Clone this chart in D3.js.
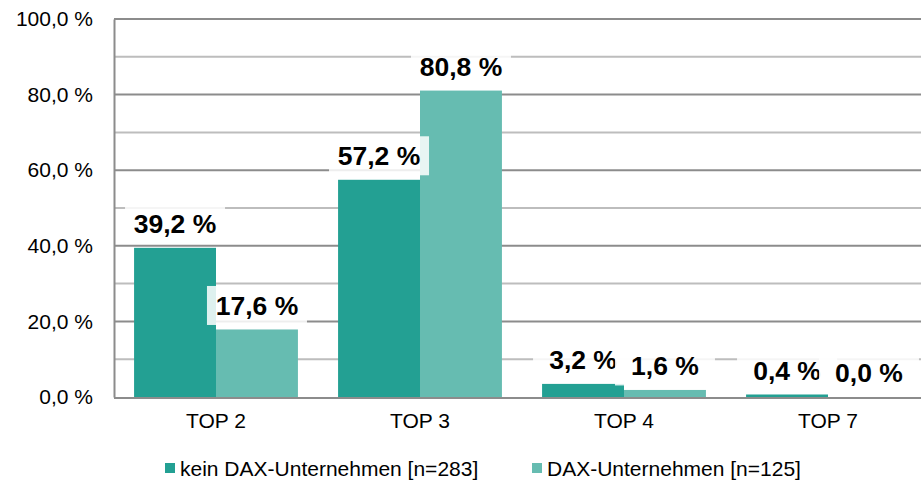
<!DOCTYPE html>
<meta charset="utf-8">
<head>
<script src="https://d3js.org/d3.v7.min.js"></script>
<style>
  body { margin: 0; background: #fff; }
  text { font-family: "Liberation Sans", Arial, sans-serif; fill: #000; }
  .tick text { font-size: 21px; }
  .lbl { font-size: 26.5px; font-weight: bold; }
  .legend text { font-size: 21px; }
</style>
</head>
<body>
<svg width="921" height="485"></svg>
<script>
var categories = ["TOP 2", "TOP 3", "TOP 4", "TOP 7"];
var seriesNames = ["kein DAX-Unternehmen [n=283]", "DAX-Unternehmen [n=125]"];
var keinDax = [39.2, 57.2, 3.2, 0.4];
var dax = [17.6, 80.8, 1.6, 0.0];
var colors = ["#23a093", "#66bcb1"];
var yTicks = [0, 20, 40, 60, 80, 100];
var yGrid = [10, 30, 50, 70, 90];

var svg = d3.select("svg"),
    plotLeft = 114, plotTop = 19, plotBottom = 397, bandW = 204;

var x = d3.scaleBand().domain(categories).range([plotLeft, plotLeft + bandW * categories.length]).paddingInner(0).paddingOuter(0);
var xs = d3.scaleBand().domain([0, 1]).range([0, bandW]).paddingInner(0).paddingOuter(0.245);
var y = d3.scaleLinear().domain([0, 100]).range([plotBottom, plotTop]);

var fmt = function(d) { return d.toFixed(1).replace(".", ",") + " %"; };

// gridlines
svg.append("g").selectAll("line").data(yGrid).enter().append("line")
    .attr("x1", plotLeft).attr("x2", 921)
    .attr("y1", function(d) { return y(d); }).attr("y2", function(d) { return y(d); })
    .attr("stroke", "#bdbdbd").attr("stroke-width", 2);
svg.append("g").selectAll("line").data(yTicks.slice(1)).enter().append("line")
    .attr("x1", plotLeft).attr("x2", 921)
    .attr("y1", function(d) { return y(d); }).attr("y2", function(d) { return y(d); })
    .attr("stroke", "#8c8c8c").attr("stroke-width", 2);

// y axis
var yAxis = svg.append("g")
    .attr("transform", "translate(" + plotLeft + ",0)")
    .call(d3.axisLeft(y).tickValues(yTicks).tickSize(0).tickPadding(21).tickFormat(fmt));
yAxis.select(".domain").attr("stroke", "#8c8c8c").attr("stroke-width", 2);

// x axis
var xAxis = svg.append("g")
    .attr("transform", "translate(0," + plotBottom + ")")
    .call(d3.axisBottom(x).tickSize(0).tickPadding(16));
xAxis.select(".domain").remove();
svg.append("line").attr("x1", plotLeft).attr("x2", 921).attr("y1", plotBottom + 1).attr("y2", plotBottom + 1)
    .attr("stroke", "#8c8c8c").attr("stroke-width", 2);

// bars
var data = [];
categories.forEach(function(c, i) {
  data.push({cat: c, s: 0, v: keinDax[i]});
  data.push({cat: c, s: 1, v: dax[i]});
});

svg.append("g").selectAll("rect").data(data).enter().append("rect")
    .attr("x", function(d) { return x(d.cat) + xs(d.s); })
    .attr("y", function(d) { return y(d.v) - 1; })
    .attr("width", xs.bandwidth())
    .attr("height", function(d) { return d.v > 0 ? plotBottom - y(d.v) + 1 : 0; })
    .attr("fill", function(d) { return colors[d.s]; });

// value labels with white boxes
var lab = svg.append("g").selectAll("g").data(data).enter().append("g")
    .attr("transform", function(d) {
      return "translate(" + (x(d.cat) + xs(d.s) + xs.bandwidth() / 2) + "," + (y(d.v) - 25) + ")";
    });
lab.append("rect")
    .attr("x", -50).attr("y", -19.5).attr("width", 100).attr("height", 39)
    .attr("fill", "#fff").attr("fill-opacity", 0.85);
lab.append("text").attr("class", "lbl")
    .attr("text-anchor", "middle").attr("dy", "0.36em")
    .text(function(d) { return fmt(d.v); });

// legend
var legX = [165, 532];
var leg = svg.append("g").attr("class", "legend").selectAll("g").data(seriesNames).enter().append("g")
    .attr("transform", function(d, i) { return "translate(" + legX[i] + ",468)"; });
leg.append("rect").attr("x", 0).attr("y", -5).attr("width", 10).attr("height", 10)
    .attr("fill", function(d, i) { return colors[i]; });
leg.append("text").attr("x", 15).attr("dy", "0.36em").text(function(d) { return d; });
</script>
</body>
